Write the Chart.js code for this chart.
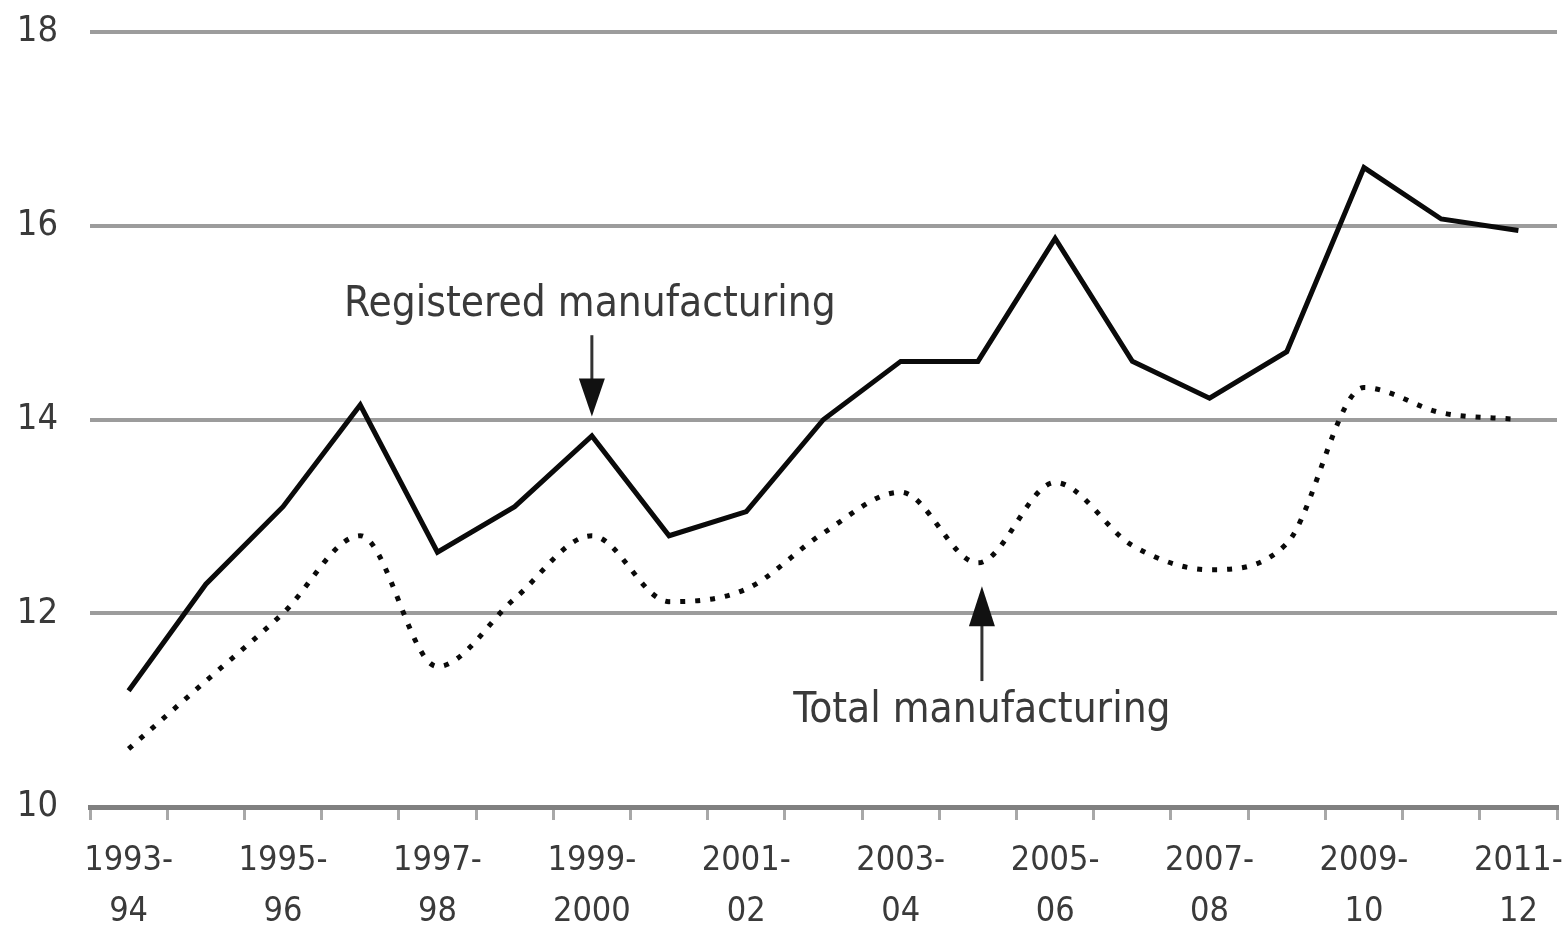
<!DOCTYPE html>
<html>
<head>
<meta charset="utf-8">
<script src="https://cdn.jsdelivr.net/npm/chart.js@4.4.1/dist/chart.umd.min.js"></script>
<style>
  html, body { margin: 0; padding: 0; background: #ffffff; }
  #wrap { width: 1567px; height: 931px; position: relative; }
</style>
</head>
<body>
<div id="wrap"><canvas id="c" width="1567" height="931"></canvas></div>
<script>
const categories = [
  ["1993-","94"], ["1994-","95"], ["1995-","96"], ["1996-","97"], ["1997-","98"],
  ["1998-","99"], ["1999-","2000"], ["2000-","01"], ["2001-","02"], ["2002-","03"],
  ["2003-","04"], ["2004-","05"], ["2005-","06"], ["2006-","07"], ["2007-","08"],
  ["2008-","09"], ["2009-","10"], ["2010-","11"], ["2011-","12"]
];
const registeredManufacturing = [11.2, 12.3, 13.1, 14.15, 12.63, 13.1, 13.83, 12.8, 13.05, 14.0,
  14.6, 14.6, 15.87, 14.6, 14.22, 14.7, 16.6, 16.07, 15.95];
const totalManufacturing = [10.6, 11.3, 12.0, 12.8, 11.45, 12.15, 12.8, 12.12, 12.25, 12.83,
  13.25, 12.52, 13.35, 12.7, 12.45, 12.72, 14.33, 14.07, 14.0];
const yTicks = [10, 12, 14, 16, 18];

const FONT = '"DejaVu Sans Condensed", "Liberation Sans Narrow", sans-serif';
const TEXT = '#3a3a3a';

const annotations = {
  id: 'annotations',
  afterDatasetsDraw(chart) {
    const ctx = chart.ctx;
    const x = chart.scales.x, y = chart.scales.y;
    ctx.save();
    ctx.fillStyle = TEXT;
    ctx.font = '42px ' + FONT;
    ctx.textAlign = 'center';
    ctx.textBaseline = 'middle';
    const rx = x.getPixelForValue(6);
    ctx.fillText('Registered manufacturing', rx - 2, y.getPixelForValue(15.18));
    const tx = x.getPixelForValue(11) + 4;
    ctx.fillText('Total manufacturing', tx, y.getPixelForValue(10.99));

    ctx.strokeStyle = '#333';
    ctx.fillStyle = '#111';
    ctx.lineWidth = 3;
    // down arrow
    let y0 = y.getPixelForValue(14.87), y1 = y.getPixelForValue(14.03);
    ctx.beginPath(); ctx.moveTo(rx, y0); ctx.lineTo(rx, y1 - 25); ctx.stroke();
    ctx.beginPath(); ctx.moveTo(rx - 13, y1 - 38); ctx.lineTo(rx + 13, y1 - 38); ctx.lineTo(rx, y1); ctx.closePath(); ctx.fill();
    // up arrow
    y0 = y.getPixelForValue(11.3); y1 = y.getPixelForValue(12.28);
    ctx.beginPath(); ctx.moveTo(tx, y0); ctx.lineTo(tx, y1 + 25); ctx.stroke();
    ctx.beginPath(); ctx.moveTo(tx - 13, y1 + 40); ctx.lineTo(tx + 13, y1 + 40); ctx.lineTo(tx, y1); ctx.closePath(); ctx.fill();
    ctx.restore();
  }
};

new Chart(document.getElementById('c'), {
  type: 'line',
  data: {
    labels: categories,
    datasets: [
      {
        label: 'Registered manufacturing',
        data: registeredManufacturing,
        borderColor: '#0a0a0a',
        borderWidth: 5,
        pointRadius: 0,
        tension: 0,
        fill: false
      },
      {
        label: 'Total manufacturing',
        data: totalManufacturing,
        borderColor: '#0a0a0a',
        borderWidth: 5,
        borderDash: [5, 10],
        borderCapStyle: 'butt',
        pointRadius: 0,
        cubicInterpolationMode: 'monotone',
        fill: false
      }
    ]
  },
  options: {
    responsive: false,
    animation: false,
    devicePixelRatio: 1,
    layout: { padding: { top: 32, right: 10, left: 0, bottom: 0 } },
    plugins: { legend: { display: false }, tooltip: { enabled: false } },
    scales: {
      x: {
        type: 'category',
        offset: true,
        afterFit: (scale) => { scale.height = 124; scale.paddingLeft = 0; scale.paddingRight = 0; },
        grid: {
          offset: true,
          drawOnChartArea: false,
          drawTicks: true,
          tickLength: 13,
          color: '#a8a8a8',
          lineWidth: 3
        },
        border: { display: true, color: '#808080', width: 5 },
        ticks: {
          autoSkip: false,
          maxRotation: 0,
          minRotation: 0,
          padding: 16,
          color: TEXT,
          font: { family: FONT, size: 34, lineHeight: 1.5 },
          callback: function(value, index) {
            return index % 2 === 0 ? this.getLabelForValue(value) : '';
          }
        }
      },
      y: {
        min: 10,
        max: 18,
        afterBuildTicks: (scale) => { scale.ticks = yTicks.map(v => ({ value: v })); },
        afterFit: (scale) => { scale.width = 90; scale.paddingTop = 0; scale.paddingBottom = 0; },
        grid: {
          drawTicks: false,
          color: (c) => c.tick && c.tick.value === 10 ? 'rgba(0,0,0,0)' : '#9c9c9c',
          lineWidth: 4
        },
        border: { display: false },
        ticks: {
          padding: 32,
          color: TEXT,
          font: { family: FONT, size: 36 }
        }
      }
    }
  },
  plugins: [annotations]
});
</script>
</body>
</html>
